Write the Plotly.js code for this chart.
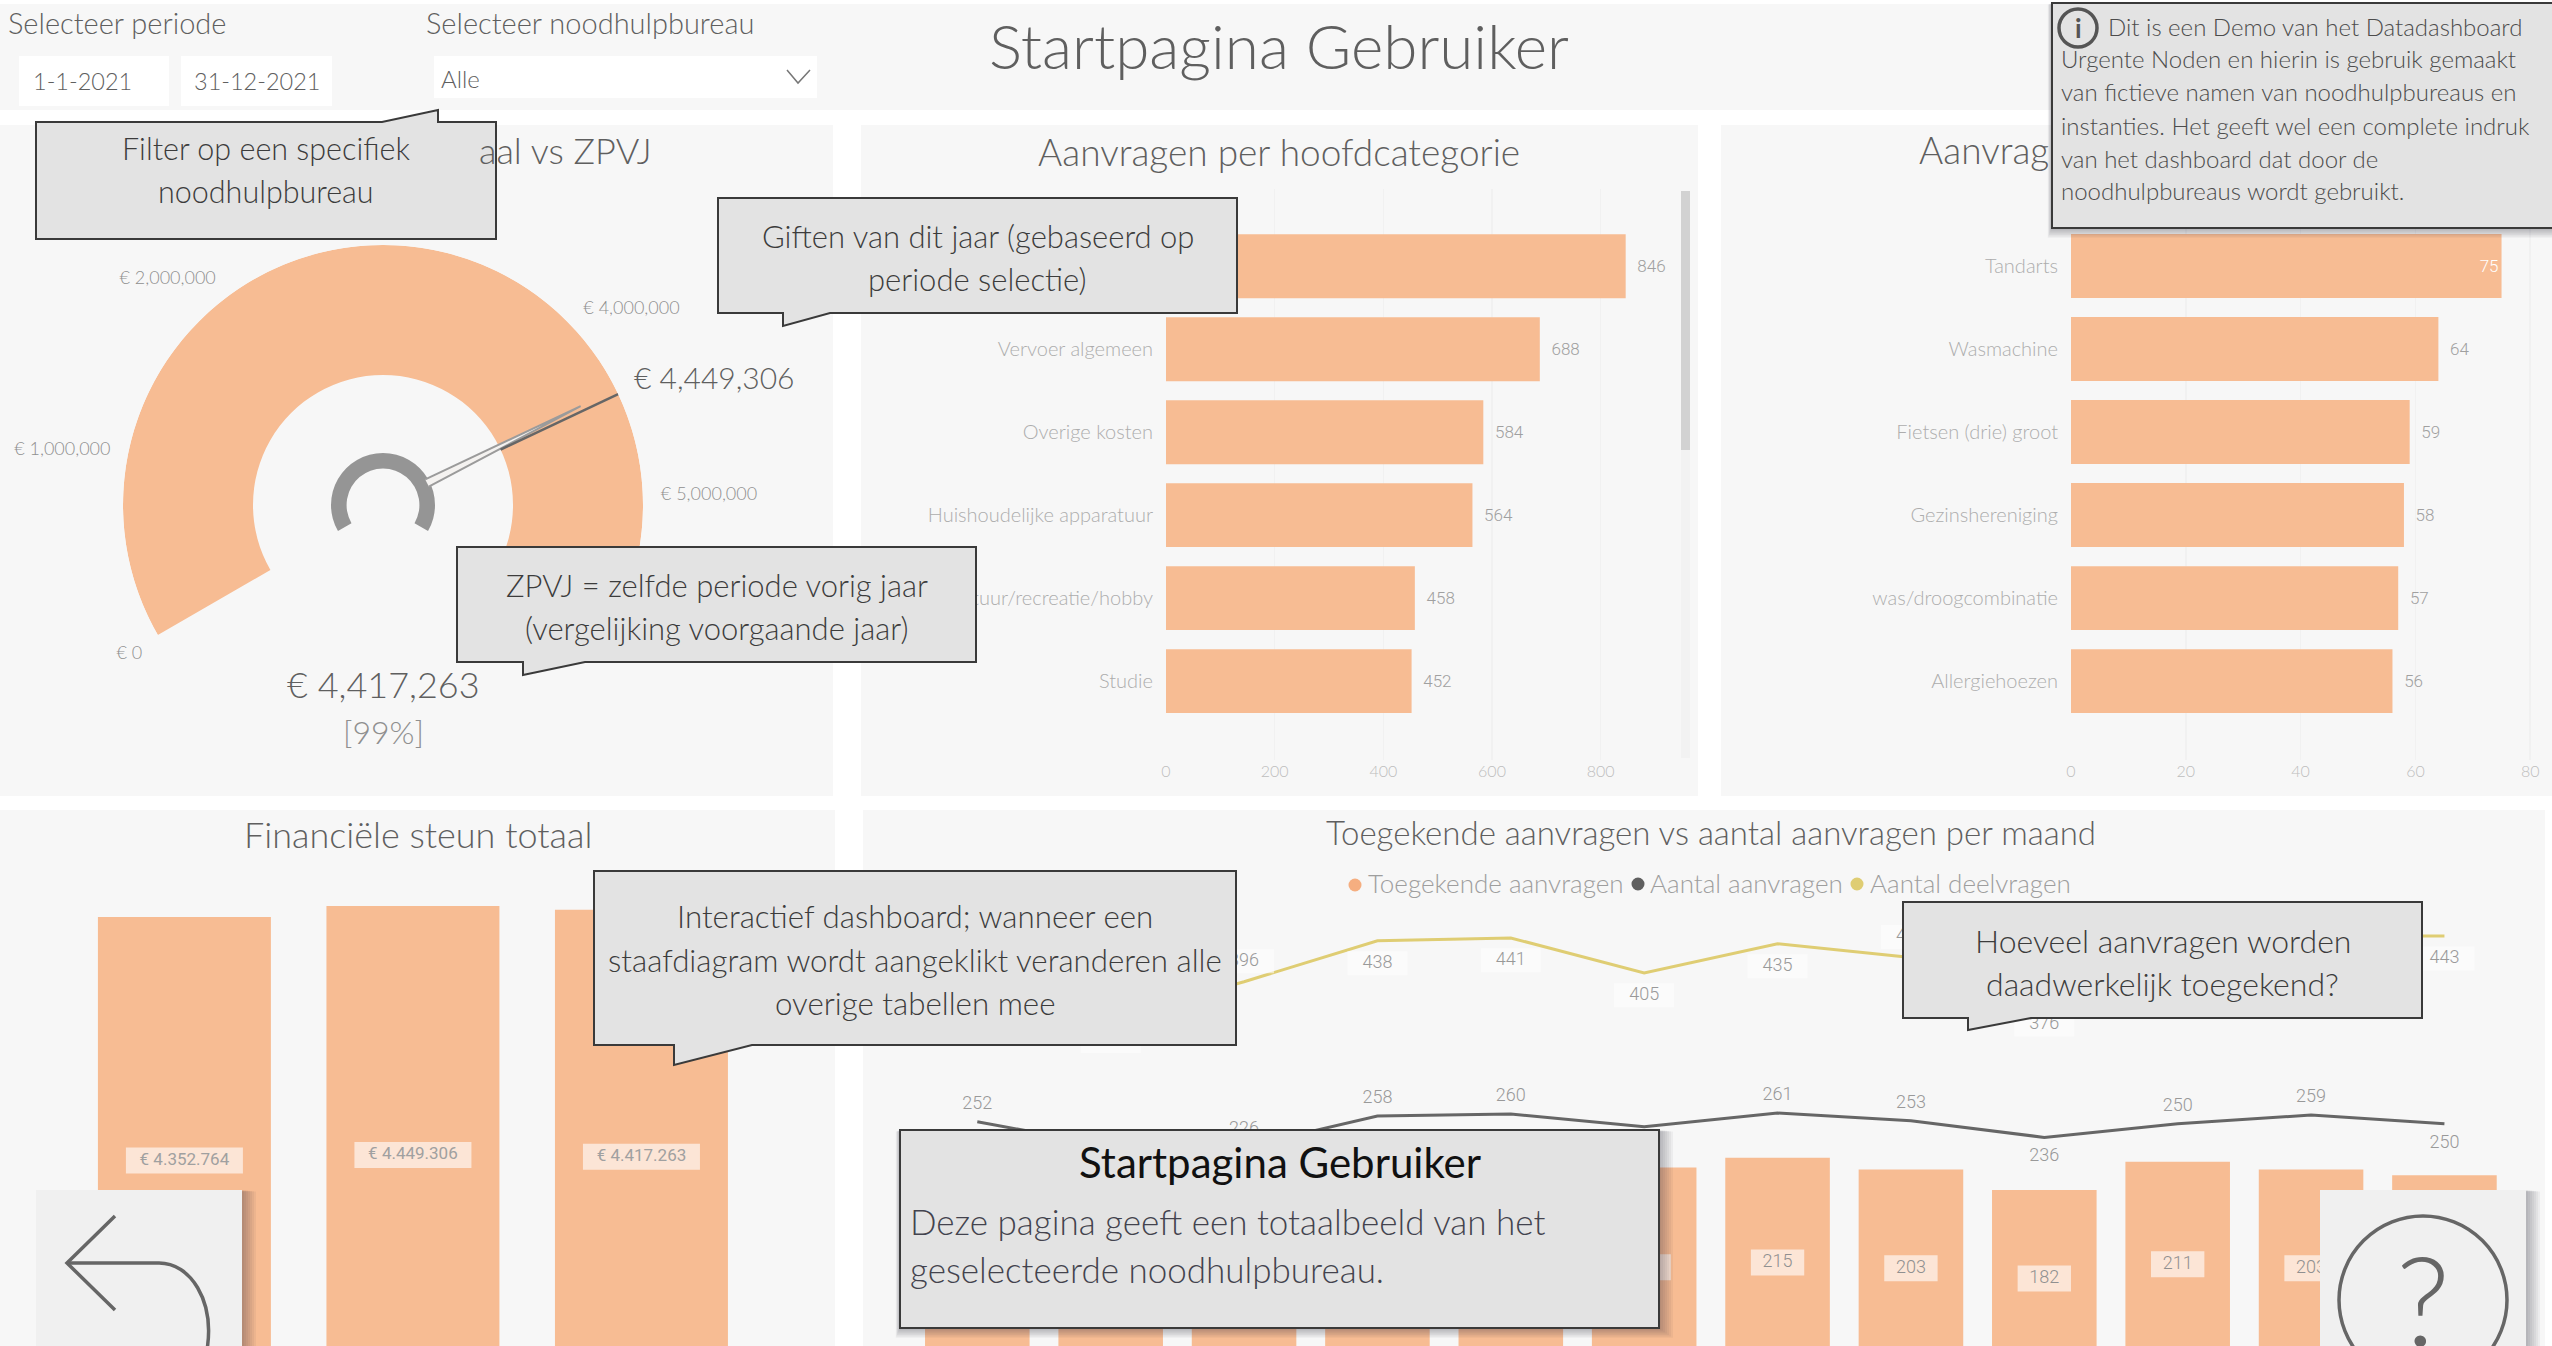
<!DOCTYPE html>
<html><head><meta charset="utf-8">
<script src="https://cdn.plot.ly/plotly-3.0.1.min.js"></script>
<style>html,body{margin:0;padding:0;background:#fff;overflow:hidden}#c{width:2552px;height:1346px}</style>
</head><body><div id="c"></div>
<script>
// ---- data ----
const hoofdCats=["Woninginrichting","Vervoer algemeen","Overige kosten","Huishoudelijke apparatuur","Cultuur/recreatie/hobby","Studie"];
const hoofdVals=[846,688,584,564,458,452];
const subCats=["Tandarts","Wasmachine","Fietsen (drie) groot","Gezinshereniging","was/droogcombinatie","Allergiehoezen"];
const subVals=[75,64,59,58,57,56];
const jaren=[0,1,2];
const steunVals=[4352764,4449306,4417263];
const steunLabels=["€ 4.352.764","€ 4.449.306","€ 4.417.263"];
const maanden=["jan","feb","mrt","apr","mei","jun","jul","aug","sep","okt","nov","dec"];
const toegekend=[198,190,186,212,216,205,215,203,182,211,203,197];
const aantal=[252,227,226,258,260,247,261,253,236,250,259,250];
const deelvragen=[412,358,396,438,441,405,435,421,376,440,443,443];
const gaugeValue=4417263, gaugeTarget=4449306, gaugeMax=5780000;
const gaugeTicks=[0,1000000,2000000,3000000,4000000,5000000];
const gaugeTickText=["€ 0","€ 1,000,000","€ 2,000,000","€ 3,000,000","€ 4,000,000","€ 5,000,000"];

// ---- helpers ----
const W=2552,H=1346;
const FONT="Lato, 'Open Sans', sans-serif", NUM="Roboto, sans-serif";
const ORANGE="#f7bc93", YEL="#dfcd73", DARK="#666666";
const fx=p=>p/W, fy=p=>1-p/H;
const dx=(a,b)=>[fx(a),fx(b)], dy=(a,b)=>[fy(b),fy(a)];
const shapes=[], ann=[];
function rect(x0,y0,x1,y1,fill,line,lw,layer){shapes.push({type:"rect",xref:"paper",yref:"paper",x0:fx(x0),x1:fx(x1),y0:fy(y0),y1:fy(y1),fillcolor:fill,line:{color:line||"rgba(0,0,0,0)",width:lw||0},layer:layer||"above"});}
function path(cmds,fill,line,lw,layer){
  let s="";cmds.forEach(c=>{s+=c[0];for(let i=1;i<c.length;i+=2){s+=" "+fx(c[i])+" "+fy(c[i+1])+" ";}});
  shapes.push({type:"path",xref:"paper",yref:"paper",path:s,fillcolor:fill||"rgba(0,0,0,0)",line:{color:line||"rgba(0,0,0,0)",width:lw||0},layer:layer||"above"});
}
function circle(cx,cy,r,fill,line,lw){shapes.push({type:"circle",xref:"paper",yref:"paper",x0:fx(cx-r),x1:fx(cx+r),y0:fy(cy+r),y1:fy(cy-r),fillcolor:fill||"rgba(0,0,0,0)",line:{color:line||"rgba(0,0,0,0)",width:lw||0},layer:"above"});}
function txt(t,x,y,size,color,anchor,weight){ann.push({xref:"paper",yref:"paper",x:fx(x),y:fy(y-2),text:t,showarrow:false,xanchor:anchor||"center",yanchor:"middle",borderpad:0,font:{family:FONT,size:size,color:color||DARK,weight:weight||300}});}
function shadow(x0,y0,x1,y1,left){for(let i=7;i>=1;i--){const s=i*2;rect(x0-(left?s*.3:0),y0+s*.1,x1+s,y1+s*.7,"rgba(40,40,50,.05)");}}
const BOX="#e3e3e3", EDGE="#3a3a3a", TXT="#3c3c3c";
function callout(x0,y0,x1,y1,tail,lines,size){
  const c=[["M",x0,y0]];
  if(tail&&tail.side==="top"){c.push(["L",tail.a,y0],["L",tail.tx,tail.ty],["L",tail.b,y0]);}
  c.push(["L",x1,y0],["L",x1,y1]);
  if(tail&&tail.side==="bottom"){c.push(["L",tail.b,y1],["L",tail.tx,tail.ty],["L",tail.a,y1]);}
  c.push(["L",x0,y1],["Z"]);
  path(c,BOX,EDGE,2);
  lines.forEach(l=>txt(l[0],(x0+x1)/2,l[1],size,TXT));
}

// ---- page panels ----
rect(0,4,W,110,"#f7f7f7",null,0,"below");
rect(0,125,833,796,"#f7f7f7",null,0,"below");
rect(861,125,1698,796,"#f7f7f7",null,0,"below");
rect(1721,125,W,796,"#f7f7f7",null,0,"below");
rect(0,810,835,H,"#f7f7f7",null,0,"below");
rect(863,810,2545,H,"#f7f7f7",null,0,"below");
rect(19,56,169,106,"#ffffff",null,0,"below");
rect(181,56,332,106,"#ffffff",null,0,"below");
rect(434,56,817,98,"#ffffff",null,0,"below");
path([["M",787,70],["L",798,83],["L",810,70]],null,"#777777",1.5,"below");

// scrollbar
rect(1681,191,1690,758,"#f2f2f2",null,0,"below");
rect(1681,191,1690,450,"#d2d2d2",null,0,"below");

// ---- slicer + titles ----
txt("Selecteer periode",7,24,29,"#5f5f5f","left");
txt("Selecteer noodhulpbureau",425,24,29,"#5f5f5f","left");
txt("1-1-2021",32,83,23.5,"#5f5f5f","left");
txt("31-12-2021",193,83,23.5,"#5f5f5f","left");
txt("Alle",440,80,24,"#5f5f5f","left");
txt("Startpagina Gebruiker",1279,47,62,"#5f5f5f");
txt("aal vs ZPVJ",653,152,36,"#5f5f5f","right");
txt("Aanvragen per hoofdcategorie",1279,153,37,"#5f5f5f");
txt("Aanvrag",1918,151,37,"#5f5f5f","left");
txt("Financiële steun totaal",418,836,36,"#5f5f5f");
txt("Toegekende aanvragen vs aantal aanvragen per maand",1711,834,33,"#5f5f5f");
// gauge readouts
txt("€ 4,449,306",633,379,30,"#5f5f5f","left");
txt("€ 4,417,263",383,686,36,"#5f5f5f");
txt("[99%]",383,733,32,"#8f8f8f");

// legend
circle(1355,885,6.5,"#f5ae80");txt("Toegekende aanvragen",1367,885,26,"#9e9e9e","left");
circle(1638,884,6.5,"#5f5f5f");txt("Aantal aanvragen",1649,885,26,"#9e9e9e","left");
circle(1857,884,6.5,YEL);txt("Aantal deelvragen",1869,885,26,"#9e9e9e","left");

// ---- overlays: callouts ----
callout(36,122,496,239,{side:"top",a:382,b:438,tx:438,ty:110},[["Filter op een specifiek",150],["noodhulpbureau",193]],30.5);
callout(718,198,1237,313,{side:"bottom",a:783,b:830,tx:783,ty:326},[["Giften van dit jaar (gebaseerd op",238],["periode selectie)",281]],31);
callout(457,547,976,662,{side:"bottom",a:523,b:585,tx:523,ty:675},[["ZPVJ = zelfde periode vorig jaar",587],["(vergelijking voorgaande jaar)",630]],31);
callout(594,871,1236,1045,{side:"bottom",a:674,b:752,tx:674,ty:1065},[["Interactief dashboard; wanneer een",918],["staafdiagram wordt aangeklikt veranderen alle",962],["overige tabellen mee",1005]],31.3);
callout(1903,902,2422,1018,{side:"bottom",a:1968,b:2031,tx:1968,ty:1030},[["Hoeveel aanvragen worden",942],["daadwerkelijk toegekend?",985]],32);

// Startpagina box
shadow(900,1130,1659,1328,true);
rect(900,1130,1659,1328,BOX,EDGE,2);
txt("Startpagina Gebruiker",1280,1164,42,"#111","center",400);
txt("Deze pagina geeft een totaalbeeld van het",909,1223,35,"#43434e","left");
txt("geselecteerde noodhulpbureau.",909,1271,35,"#43434e","left");

// info box
shadow(2052,3,2552,228,true);
rect(2052,3,2553,228,BOX,EDGE,2);
circle(2078,28,19,null,"#555",3.5);
txt("i",2078,30,26,"#555","center",700);
const infoLines=[["Dit is een Demo van het Datadashboard",2107,28],["Urgente Noden en hierin is gebruik gemaakt",2060,61],["van fictieve namen van noodhulpbureaus en",2060,94],["instanties. Het geeft wel een complete indruk",2060,127],["van het dashboard dat door de",2060,160],["noodhulpbureaus wordt gebruikt.",2060,193]];
infoLines.forEach(l=>txt(l[0],l[1],l[2],24,"#4c4c4c","left"));

// back button
shadow(36,1190,242,1360);
rect(36,1190,242,1360,"#f0f0f0");
path([["M",115,1216],["L",67,1263],["L",115,1310]],null,"#666",3.5);
path([["M",67,1263],["L",159,1263],["C",190,1263,215,1300,207,1350]],null,"#666",3.5);

// help button
shadow(2320,1190,2526,1360);
rect(2320,1190,2526,1360,"#f0f0f0");
circle(2423,1300,84,null,"#666",3.5);
txt("?",2423,1300,125,"#666");

// ---- traces ----
const data=[];
const hb=(x,y,xa,ya,inside)=>({type:"bar",orientation:"h",x,y,xaxis:xa,yaxis:ya,marker:{color:ORANGE},width:.77,
  texttemplate:x.map((v,i)=>inside&&i===0?"%{x}":"\u2002%{x}"),
  textposition:x.map((v,i)=>inside&&i===0?"inside":"outside"),insidetextanchor:"end",
  textfont:{family:NUM,size:17,weight:300,color:x.map((v,i)=>inside&&i===0?"#ffffff":"#a0a0a0")},cliponaxis:false,hoverinfo:"skip"});
data.push(hb(hoofdVals,hoofdCats,"x","y",false));
data.push(hb(subVals,subCats,"x2","y2",true));

// financial support
data.push({type:"bar",x:jaren,y:steunVals,xaxis:"x3",yaxis:"y3",width:.757,marker:{color:ORANGE},hoverinfo:"skip"});
const seg=(c,half,ys)=>{const xs=[],yy=[];c.forEach((_,i)=>{xs.push(i-half,i+half,null);yy.push(ys[i],ys[i],null);});return {x:xs,y:yy};};
const s3=seg(jaren,.256,steunVals.map(v=>v/2));
data.push({type:"scatter",mode:"lines",x:s3.x,y:s3.y,xaxis:"x3",yaxis:"y3",line:{color:"rgba(255,255,255,.62)",width:26},hoverinfo:"skip"});
data.push({type:"scatter",mode:"text",x:jaren,y:steunVals.map(v=>v/2),text:steunLabels,xaxis:"x3",yaxis:"y3",textfont:{family:NUM,size:17,weight:400,color:"#a0a0a0"},textposition:"middle center",hoverinfo:"skip"});

// monthly
const mIdx=maanden.map((_,i)=>i);
data.push({type:"bar",x:mIdx,y:toegekend,xaxis:"x4",yaxis:"y4",width:.784,marker:{color:ORANGE},hoverinfo:"skip"});
const s4=seg(maanden,.2,toegekend.map(v=>v/2));
data.push({type:"scatter",mode:"lines",x:s4.x,y:s4.y,xaxis:"x4",yaxis:"y4",line:{color:"rgba(255,255,255,.62)",width:26},hoverinfo:"skip"});
data.push({type:"scatter",mode:"text",x:mIdx,y:toegekend.map(v=>v/2),text:toegekend.map(String),xaxis:"x4",yaxis:"y4",textfont:{family:NUM,size:18,weight:300,color:"#909090"},hoverinfo:"skip"});
data.push({type:"scatter",mode:"lines",x:mIdx,y:aantal,xaxis:"x4",yaxis:"y4",line:{color:DARK,width:3},hoverinfo:"skip"});
data.push({type:"scatter",mode:"lines",x:mIdx,y:deelvragen,xaxis:"x4",yaxis:"y4",line:{color:YEL,width:3},hoverinfo:"skip"});
const aOff=[18,-20,18,18,18,-20,18,18,-20,18,18,-20], dOff=[-23,-23,21,-23,-23,-23,-23,21,-24,-23,-23,-23];
const dLab=deelvragen.map((v,i)=>v+dOff[i]);
const s5=seg(maanden,.225,dLab);
data.push({type:"scatter",mode:"lines",x:s5.x,y:s5.y,xaxis:"x4",yaxis:"y4",line:{color:"rgba(255,255,255,.55)",width:24},hoverinfo:"skip"});
data.push({type:"scatter",mode:"text",x:mIdx,y:dLab,text:deelvragen.map(String),xaxis:"x4",yaxis:"y4",textfont:{family:NUM,size:18,weight:300,color:"#999999"},hoverinfo:"skip"});
data.push({type:"scatter",mode:"text",x:mIdx,y:aantal.map((v,i)=>v+aOff[i]),text:aantal.map(String),xaxis:"x4",yaxis:"y4",textfont:{family:NUM,size:18,weight:300,color:"#999999"},hoverinfo:"skip"});

// gauge
const th=v=>210-240*v/gaugeMax;
data.push({type:"barpolar",r:[.5],base:[.5],theta:[th(gaugeMax/2)],width:[240],marker:{color:ORANGE,line:{width:0}},subplot:"polar",hoverinfo:"skip"});
data.push({type:"barpolar",r:[.06],base:[.14],theta:[th(gaugeMax/2)],width:[240],marker:{color:"#959595",line:{width:0}},subplot:"polar",hoverinfo:"skip"});
data.push({type:"scatterpolar",mode:"lines",r:[.19,.85,.19],theta:[th(gaugeValue)+4.6,th(gaugeValue),th(gaugeValue)-4.6],fill:"toself",fillcolor:"#f4f2f0",line:{color:"#9b9b9b",width:2},subplot:"polar",hoverinfo:"skip"});
data.push({type:"scatterpolar",mode:"lines",r:[.5,1],theta:[th(gaugeTarget),th(gaugeTarget)],line:{color:"#666",width:2.5},subplot:"polar",hoverinfo:"skip"});

const catAxis=(d,r,a)=>({domain:d,range:r,anchor:a,type:"category",showgrid:false,zeroline:false,showline:false,ticks:"outside",ticklen:8,tickcolor:"rgba(0,0,0,0)",tickfont:{family:FONT,size:20,color:"#adadad",weight:300}});
const valAxis=(d,r,a,t)=>({domain:d,range:r,anchor:a,tickmode:"array",tickvals:t,ticktext:t.map(String),showgrid:true,gridcolor:"#f1f1f1",gridwidth:1.5,zeroline:false,showline:false,ticks:"",tickfont:{family:FONT,size:16,color:"#bdbdbd",weight:300}});
const hidden=(d,r,a)=>({domain:d,range:r,anchor:a,visible:false,showgrid:false,zeroline:false,fixedrange:true});

const layout={width:W,height:H,margin:{l:0,r:0,t:0,b:0,pad:0},paper_bgcolor:"#ffffff",plot_bgcolor:"rgba(0,0,0,0)",showlegend:false,barmode:"overlay",
 font:{family:FONT},
 xaxis:valAxis(dx(1166,1680),[0,946],"y",[0,200,400,600,800]),
 yaxis:catAxis(dy(189,760),[5.95,-.93],"x"),
 xaxis2:valAxis(dx(2071,2540),[0,81.7],"y2",[0,20,40,60,80]),
 yaxis2:catAxis(dy(200,760),[5.95,-.795],"x2"),
 xaxis3:hidden(dx(0,835),[-.807,2.847],"y3"),
 yaxis3:hidden(dy(840,1346),[518000,5040000],"x3"),
 xaxis4:hidden(dx(863,2545),[-.857,11.754],"y4"),
 yaxis4:hidden(dy(900,1346),[21.6,480],"x4"),
 polar:{domain:{x:dx(123,643),y:dy(245,765)},bgcolor:"rgba(0,0,0,0)",
   radialaxis:{visible:false,range:[0,1]},
   angularaxis:{thetaunit:"degrees",rotation:0,direction:"counterclockwise",tickmode:"array",tickvals:gaugeTicks.map(th),ticktext:gaugeTickText,ticks:"outside",ticklen:14,tickcolor:"rgba(0,0,0,0)",showline:false,showgrid:false,tickfont:{family:FONT,size:18,color:"#8f8f8f",weight:300}}},
 shapes:shapes,annotations:ann};
Plotly.newPlot("c",data,layout,{displayModeBar:false,staticPlot:true});
</script></body></html>
